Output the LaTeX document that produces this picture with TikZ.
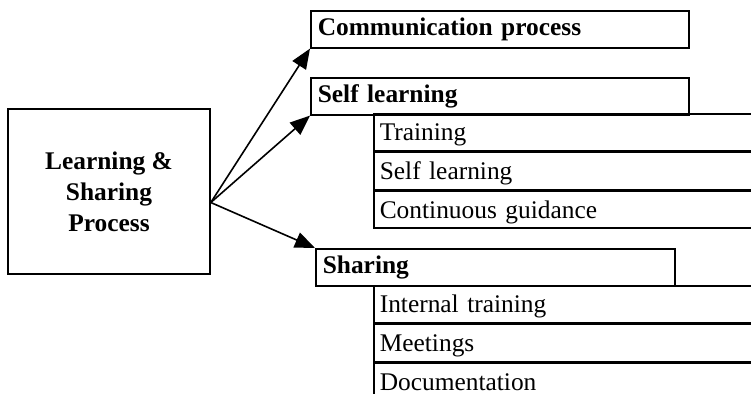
\documentclass[tikz,border=0pt]{standalone}
\usepackage{fontspec}
\setmainfont{Liberation Serif}
\usetikzlibrary{positioning,arrows.meta}
\begin{document}
\begin{tikzpicture}[x=0.5pt,y=-0.5pt,
  font=\fontsize{12.7}{15.5}\selectfont,
  head/.style={draw,line width=0.8pt,bold,anchor=north west,minimum height=18.5pt,inner xsep=3.5pt,inner ysep=0pt,align=left},
  bold/.style={font=\fontsize{12.7}{15.5}\selectfont\bfseries},
  item/.style={draw,line width=0.8pt,minimum height=18.5pt,text width=209pt,text height=10.5pt,text depth=2pt,inner xsep=3pt,inner ysep=0pt,align=left},
  arr/.style={line width=0.8pt,-{Triangle[length=10pt,width=8pt]}}]
\clip (0,0) rectangle (751,393);
\node[draw,line width=0.8pt,bold,align=center,minimum width=101pt,minimum height=82.5pt] (main) at (109,191.5) {Learning \&\\Sharing\\Process};
\coordinate (hub) at ([yshift=-5.5pt]main.east);
\node[head,text width=182pt] (comm) at (310,10) {Communication process};
\node[head,text width=182pt] (self) at (310,77) {Self learning};
\node[head,text width=172.5pt] (share) at (315,248) {Sharing};
\node[item,anchor=north west] (train) at (373,113) {Training};
\node[item,below=0pt of train] (selfl) {Self learning};
\node[item,below=0pt of selfl] (guide) {Continuous guidance};
\node[item,anchor=north west] (intern) at (373,285) {Internal training};
\node[item,below=0pt of intern] (meet) {Meetings};
\node[item,below=0pt of meet] (doc) {Documentation};
\draw[arr] (hub) -- (comm.south west);
\draw[arr] (hub) -- (self.south west);
\draw[arr] (hub) -- (share.north west);
\end{tikzpicture}
\end{document}
